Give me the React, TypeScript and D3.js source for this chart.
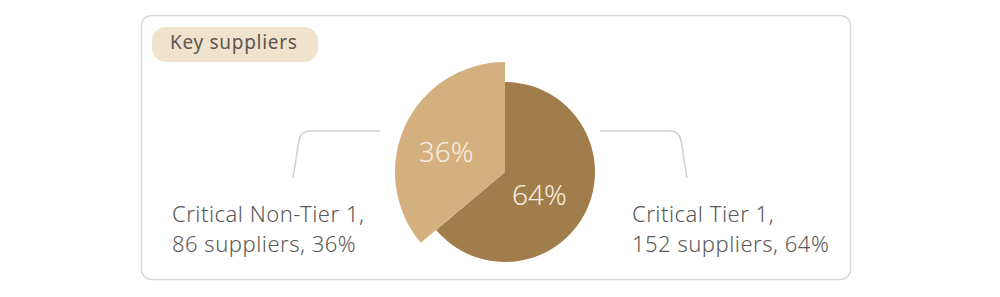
import React from "react";
import * as d3 from "d3";

const categories = ["Critical Tier 1", "Critical Non-Tier 1"];
const supplierCounts = [152, 86];
const percents = [64, 36];
const sliceColors = ["#a17d4c", "#d5b07f"];
const title = "Key suppliers";

export default function App() {
  const W = 1000, H = 297;
  const cx = 505, cy = 172;
  const pie = d3.pie<number>().value((d) => d).sort(null);
  const arcs = pie(supplierCounts);
  const radii = [90, 110];
  const labelRadii = [38, 65];
  const font = "'Noto Sans', sans-serif";
  const textColor = "#5c5855";
  const lineColor = "#cfcfcf";
  return (
    <svg width={W} height={H} style={{ position: "absolute", left: 0, top: 0, display: "block" }}>
      <rect x={0} y={0} width={W} height={H} fill="#fff" />
      <rect x={141.5} y={15.5} width={709} height={264} rx={10} fill="#fff" stroke="#d9d9d9" strokeWidth={1.5} />
      <rect x={152} y={27} width={166} height={35} rx={14} fill="#f1e2ce" />
      <text x={170} y={49} fontFamily={font} fontSize={19} fill="#5e5650" fontWeight={400} letterSpacing={0.7}>{title}</text>
      {/* connectors */}
      <path d="M380,131 H310 Q301,131 299,140 L293,178" fill="none" stroke={lineColor} strokeWidth={1.5} />
      <path d="M600,131 H670 Q679,131 681,140 L687,178" fill="none" stroke={lineColor} strokeWidth={1.5} />
      {arcs.map((a, i) => {
        const arcGen = d3.arc<d3.PieArcDatum<number>>().innerRadius(0).outerRadius(radii[i]);
        return <path key={i} d={arcGen(a) || ""} transform={`translate(${cx},${cy})`} fill={sliceColors[i]} />;
      })}
      {arcs.map((a, i) => {
        const c = d3.arc<d3.PieArcDatum<number>>().innerRadius(labelRadii[i]).outerRadius(labelRadii[i]).centroid(a);
        return (
          <text key={"l" + i} x={cx + c[0]} y={cy + c[1] + 6} textAnchor="middle" dominantBaseline="central"
            fontFamily={font} fontSize={28} fontWeight={300} fill="#f7eddf">{percents[i]}%</text>
        );
      })}
      <text fontFamily={font} fontSize={22} fontWeight={300} fill={textColor} letterSpacing={0.5}>
        <tspan x={172} y={222}>{categories[1]},</tspan>
        <tspan x={172} y={252}>{supplierCounts[1]} suppliers, {percents[1]}%</tspan>
      </text>
      <text fontFamily={font} fontSize={22} fontWeight={300} fill={textColor} letterSpacing={0.5}>
        <tspan x={632} y={222}>{categories[0]},</tspan>
        <tspan x={632} y={252}>{supplierCounts[0]} suppliers, {percents[0]}%</tspan>
      </text>
    </svg>
  );
}
